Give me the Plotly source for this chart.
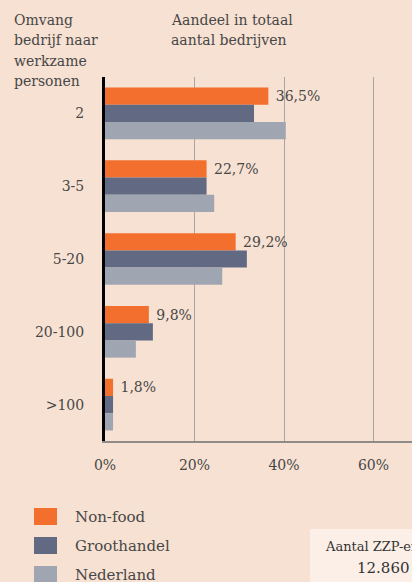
import plotly.graph_objects as go

# Company size classes (number of employees)
categories = ["2", "3-5", "5-20", "20-100", ">100"]

# Share of all companies, in percent
series_names = ["Non-food", "Groothandel", "Nederland"]
non_food = [36.5, 22.7, 29.2, 9.8, 1.8]
groothandel = [33.3, 22.7, 31.7, 10.7, 1.8]
nederland = [40.4, 24.4, 26.2, 6.9, 1.8]

x_ticks = [0, 20, 40, 60]
x_tick_labels = ["0%", "20%", "40%", "60%"]

left_header = ["Omvang", "bedrijf naar", "werkzame", "personen"]
right_header = ["Aandeel in totaal", "aantal bedrijven"]

colors = ["#F36F2D", "#626A83", "#A0A6B1"]
bg = "#F7E1D2"
text_col = "#474747"
font_family = "DejaVu Serif"

W, H = 412, 582
left, top, bottom = 105, 77, 441


def px(x):
    """Pixel x -> paper x (paper spans the plot area)."""
    return (x - left) / (W - left)


def py(y):
    """Pixel y (from top) -> paper y."""
    return (bottom - y) / (bottom - top)


def pct(v):
    return "\u00a0" + f"{v:.1f}%".replace(".", ",")


fig = go.Figure()
for name, vals, col in zip(series_names, [non_food, groothandel, nederland], colors):
    fig.add_trace(go.Bar(
        y=categories,
        x=vals,
        orientation="h",
        name=name,
        marker=dict(color=col, line=dict(width=0)),
        text=[pct(v) for v in vals] if name == "Non-food" else None,
        textposition="outside",
        cliponaxis=False,
        textfont=dict(family=font_family, size=14, color=text_col),
        hoverinfo="skip",
    ))

fig.update_layout(
    width=W, height=H,
    margin=dict(l=left, r=0, t=top, b=H - bottom, pad=0),
    paper_bgcolor=bg, plot_bgcolor=bg,
    barmode="group", bargap=0.29, bargroupgap=0,
    showlegend=False,
    font=dict(family=font_family, size=14, color=text_col),
    xaxis=dict(
        range=[0, (W - left) / 4.475], tickvals=x_ticks, ticktext=x_tick_labels,
        showgrid=True, gridcolor="#A9A5A2", gridwidth=1.2,
        zeroline=False, showline=True, linecolor="#8E8B88", linewidth=1.5,
        ticks="", ticklabelstandoff=10,
        tickfont=dict(family=font_family, size=14, color=text_col),
        fixedrange=True,
    ),
    yaxis=dict(
        autorange="reversed", showgrid=False, zeroline=False,
        showline=True, linecolor="#000000", linewidth=3,
        ticks="", ticklabelstandoff=15,
        tickfont=dict(family=font_family, size=14, color=text_col),
        fixedrange=True,
    ),
)

# Column headers, one annotation per line for an even line pitch
for i, line in enumerate(left_header):
    fig.add_annotation(
        x=px(12), y=py(20 + i * 20.3), xref="paper", yref="paper",
        xanchor="left", yanchor="middle", showarrow=False, text=line,
        font=dict(family=font_family, size=14, color=text_col),
    )
for i, line in enumerate(right_header):
    fig.add_annotation(
        x=px(169), y=py(20 + i * 20.3), xref="paper", yref="paper",
        xanchor="left", yanchor="middle", showarrow=False, text=line,
        font=dict(family=font_family, size=14, color=text_col),
    )

# Legend drawn as swatches with labels
for i, (name, col) in enumerate(zip(series_names, colors)):
    y0 = 508 + i * 29
    fig.add_shape(
        type="rect", xref="paper", yref="paper",
        x0=px(34), x1=px(57), y0=py(y0 + 17), y1=py(y0),
        fillcolor=col, line=dict(width=0),
    )
    fig.add_annotation(
        x=px(73), y=py(y0 + 8.5), xref="paper", yref="paper",
        xanchor="left", yanchor="middle", showarrow=False, text=name,
        font=dict(family=font_family, size=15, color=text_col),
    )

# Info box with the number of self-employed
fig.add_shape(
    type="rect", xref="paper", yref="paper",
    x0=px(310), x1=px(420), y0=py(590), y1=py(529),
    fillcolor="#FCEFE7", line=dict(width=0), layer="below",
)
fig.add_annotation(
    x=px(323), y=py(546), xref="paper", yref="paper",
    xanchor="left", yanchor="middle", showarrow=False, text="Aantal ZZP-ers",
    font=dict(family=font_family, size=13, color="#333333"),
)
fig.add_annotation(
    x=px(383), y=py(568), xref="paper", yref="paper",
    xanchor="center", yanchor="middle", showarrow=False, text="12.860",
    font=dict(family=font_family, size=15, color="#333333"),
)

fig.write_html("out.html", config={"displayModeBar": False})
